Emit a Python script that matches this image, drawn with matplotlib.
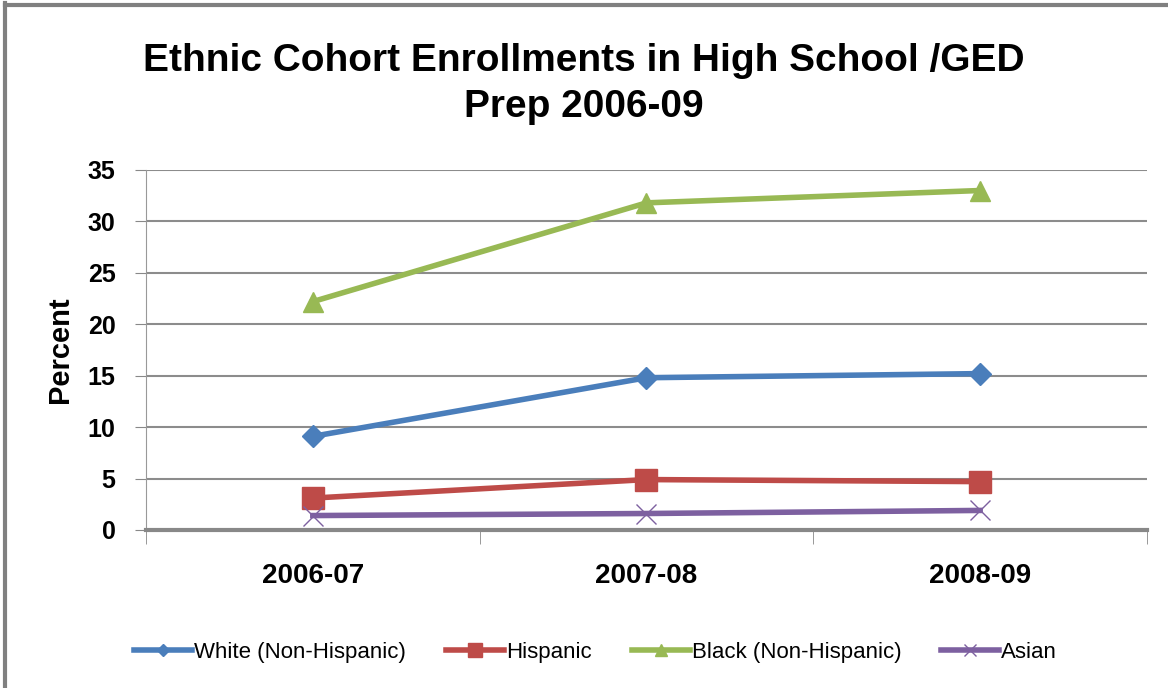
import matplotlib as mpl
mpl.use('Agg')
import matplotlib.pyplot as plt
import numpy as np

years = ['2006-07', '2007-08', '2008-09']
white = [9.1, 14.8, 15.2]
hispanic = [3.1, 4.9, 4.7]
black = [22.2, 31.8, 33.0]
asian = [1.4, 1.6, 1.9]

plt.rcParams['font.family'] = ['Liberation Sans', 'DejaVu Sans']

fig = plt.figure(figsize=(11.68, 6.88), dpi=100)
ax = fig.add_axes([0.125, 0.2297, 0.857, 0.5233])

x = np.arange(len(years))
ax.plot(x, white, color='#4a7ebb', lw=4, marker='D', ms=11, label='White (Non-Hispanic)')
ax.plot(x, hispanic, color='#be4b48', lw=4, marker='s', ms=16, label='Hispanic')
ax.plot(x, black, color='#98b954', lw=4, marker='^', ms=15, label='Black (Non-Hispanic)')
ax.plot(x, asian, color='#7d60a0', lw=4, marker='x', ms=15, mew=1, label='Asian')

ax.set_xlim(-0.5, 2.5)
ax.set_ylim(0, 35)
ax.set_yticks(range(0, 36, 5))
ax.set_xticks(x)
ax.set_xticklabels(years, fontsize=20, fontweight='bold')
ax.set_xticks([-0.5, 0.5, 1.5, 2.5], minor=True)
ax.tick_params(axis='x', which='major', length=0, pad=24)
ax.tick_params(axis='x', which='minor', length=10, color='#888888', direction='out')
ax.tick_params(axis='y', labelsize=18, length=8, color='#888888', pad=14)
for lab in ax.get_yticklabels():
    lab.set_fontweight('bold')
ax.grid(axis='y', color='#8c8c8c', lw=1.5)
ax.set_axisbelow(True)
for s in ['top', 'right']:
    ax.spines[s].set_visible(False)
ax.spines['left'].set_color('#999999')
ax.spines['bottom'].set_color('#888888')
ax.spines['bottom'].set_linewidth(3)
ax.set_ylabel('Percent', fontsize=21, fontweight='bold', labelpad=10)

fig.suptitle('Ethnic Cohort Enrollments in High School /GED\nPrep 2006-09',
             fontsize=28, fontweight='bold', y=0.937, linespacing=1.35)

fig.legend(loc='center', bbox_to_anchor=(0.51, 0.052), ncol=4, frameon=False,
           fontsize=16, handlelength=2.6, columnspacing=1.8, handletextpad=0.1,
           markerscale=0.6)

# outer chart border
fig.add_artist(plt.Line2D([0.004, 0.004], [0, 0.995], color='#808080', lw=3))
fig.add_artist(plt.Line2D([0.004, 1], [0.993, 0.993], color='#808080', lw=3))

fig.savefig('out.png', dpi=100)
